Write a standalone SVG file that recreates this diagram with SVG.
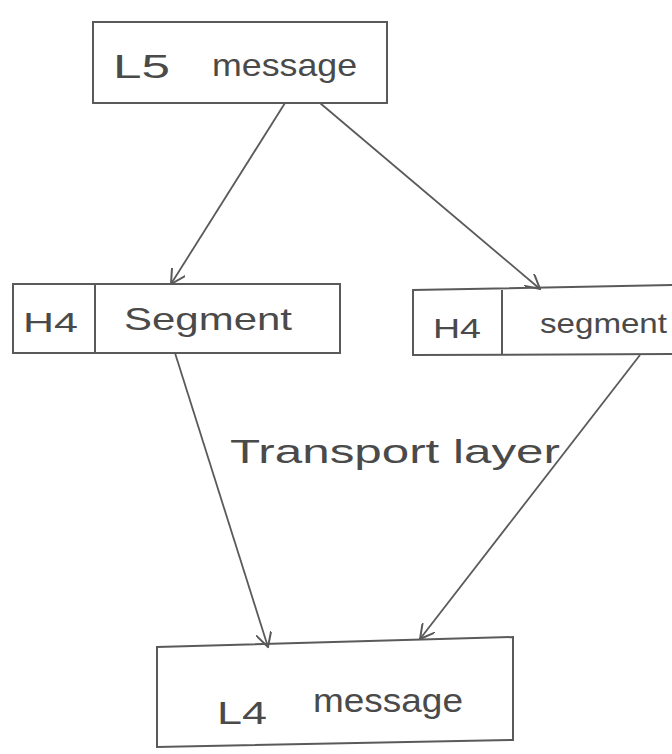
<svg xmlns="http://www.w3.org/2000/svg" width="672" height="754" viewBox="0 0 672 754">
<style>
.box{fill:none;stroke:#5a5a5a;stroke-width:2}
.t{font-family:"Liberation Sans",Arial,sans-serif;fill:#4a4a4a}
.c{stroke:#5a5a5a;stroke-width:1.8;fill:none;marker-end:url(#ah)}
</style>
<defs>
<marker id="ah" viewBox="0 0 12 12" refX="11" refY="6" markerWidth="16" markerHeight="16" markerUnits="userSpaceOnUse" orient="auto">
<path d="M0,0 L11,6 L0,12" fill="none" stroke="#5a5a5a" stroke-width="1.5"/>
</marker>
</defs>
<rect width="672" height="754" fill="#ffffff"/>
<g id="l5">
<rect class="box" x="93" y="22" width="294" height="81"/>
<text class="t" x="113" y="78" font-size="34" textLength="57" lengthAdjust="spacingAndGlyphs">L5</text>
<text class="t" x="212" y="76" font-size="32" textLength="145" lengthAdjust="spacingAndGlyphs">message</text>
</g>
<g id="seg-left">
<rect class="box" x="13" y="284" width="327" height="69"/>
<line class="box" x1="95" y1="284" x2="95" y2="353"/>
<text class="t" x="23" y="332" font-size="28" textLength="55" lengthAdjust="spacingAndGlyphs">H4</text>
<text class="t" x="124" y="330" font-size="32" textLength="168" lengthAdjust="spacingAndGlyphs">Segment</text>
</g>
<g id="seg-right">
<path class="box" d="M674,285 L413,290 L413,355 L674,354"/>
<line class="box" x1="502" y1="290" x2="502" y2="355"/>
<text class="t" x="433" y="338" font-size="28" textLength="48" lengthAdjust="spacingAndGlyphs">H4</text>
<text class="t" x="540" y="333" font-size="28" textLength="127" lengthAdjust="spacingAndGlyphs">segment</text>
</g>
<g id="l4">
<path class="box" d="M157,647 L513,637 L513,740 L157,747 Z"/>
<text class="t" x="217" y="724" font-size="32" textLength="50" lengthAdjust="spacingAndGlyphs">L4</text>
<text class="t" x="313" y="712" font-size="34" textLength="150" lengthAdjust="spacingAndGlyphs">message</text>
</g>
<g id="label">
<text class="t" x="230" y="463" font-size="34" textLength="330" lengthAdjust="spacingAndGlyphs">Transport layer</text>
</g>
<g id="connectors">
<line class="c" x1="285" y1="103" x2="171" y2="284"/>
<line class="c" x1="320" y1="103" x2="540" y2="289"/>
<line class="c" x1="175" y1="353" x2="268" y2="647"/>
<line class="c" x1="640" y1="355" x2="420" y2="639"/>
</g>
</svg>
